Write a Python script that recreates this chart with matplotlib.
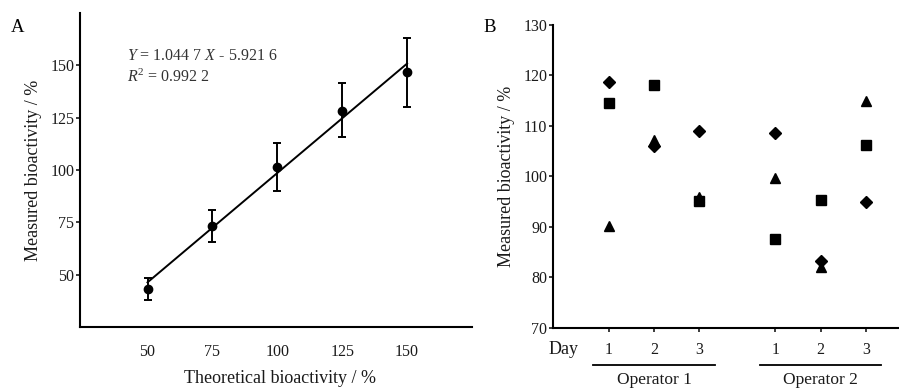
"""Bioactivity linearity (A) and intermediate precision (B)."""
import matplotlib

matplotlib.use("Agg")
import matplotlib.pyplot as plt
import matplotlib.transforms as mtransforms
import numpy as np

plt.rcParams["font.family"] = ["Liberation Serif", "DejaVu Serif"]
plt.rcParams["mathtext.fontset"] = "custom"
plt.rcParams["mathtext.it"] = "Liberation Serif:italic"
plt.rcParams["mathtext.rm"] = "Liberation Serif"

# Panel A: linearity
theoretical = [50, 75, 100, 125, 150]
measured = [43.3, 73.0, 101.4, 128.3, 146.7]
err_upper = [48.6, 80.7, 113.0, 141.7, 162.9]
err_lower = [38.1, 65.8, 90.0, 115.9, 130.0]
slope = 1.0447
intercept = -5.9216

# Panel B: three replicates per day, two operators
day_labels = ["1", "2", "3", "1", "2", "3"]
day_pos = [1, 2, 3, 4.67, 5.67, 6.67]
rep_diamond = [118.8, 106.1, 109.0, 108.6, 83.3, 94.9]
rep_square = [114.5, 118.1, 95.2, 87.6, 95.4, 106.2]
rep_triangle = [90.1, 107.2, 96.0, 99.6, 82.1, 115.0]
operators = ["Operator 1", "Operator 2"]

fig = plt.figure(figsize=(8.99, 3.9), dpi=100)
ax_a = fig.add_axes([0.089, 0.1615, 0.436, 0.8055])
ax_b = fig.add_axes([0.615, 0.159, 0.385, 0.777])

for ax in (ax_a, ax_b):
    for side in ("top", "right"):
        ax.spines[side].set_visible(False)
    for side in ("left", "bottom"):
        ax.spines[side].set_linewidth(1.5)
    ax.tick_params(direction="out", length=3, width=1.2, labelsize=11.5,
                   colors="#1a1a1a")
    ax.tick_params(axis="y", pad=1)

# ---- A ----
meas = np.array(measured)
yerr = [meas - np.array(err_lower), np.array(err_upper) - meas]
ax_a.errorbar(theoretical, measured, yerr=yerr, fmt="o", color="black",
              ms=6, capsize=3, elinewidth=1.4, capthick=1.4)
fit_x = np.array([theoretical[0], theoretical[-1]])
ax_a.plot(fit_x, slope * fit_x + intercept, color="black", lw=1.4)
ax_a.set_xlim(24, 175)
ax_a.set_ylim(25, 175)
ax_a.set_xticks(theoretical)
ax_a.set_yticks([50, 75, 100, 125, 150])
ax_a.tick_params(axis="x", length=0, pad=12)
ax_a.set_ylabel("Measured bioactivity / %", fontsize=13, labelpad=6,
                color="#1a1a1a")
fig.text(0.311, 0.03, "Theoretical bioactivity / %", fontsize=13,
         ha="center", va="center", color="#1a1a1a")
ax_a.text(0.12, 0.863, r"$\mathit{Y}$ = 1.044 7 $\mathit{X}$ - 5.921 6",
          transform=ax_a.transAxes, fontsize=11.5, color="#333333",
          va="center")
ax_a.text(0.12, 0.796, r"$\mathit{R}^2$ = 0.992 2",
          transform=ax_a.transAxes, fontsize=11.5, color="#333333",
          va="center")
fig.text(0.02, 0.93, "A", fontsize=13.5, ha="center", va="center")

# ---- B ----
ax_b.plot(day_pos, rep_diamond, "D", color="black", ms=6.3, ls="none")
ax_b.plot(day_pos, rep_square, "s", color="black", ms=6.5, ls="none")
ax_b.plot(day_pos, rep_triangle, "^", color="black", ms=7, ls="none")
ax_b.set_xlim(-0.23, 7.4)
ax_b.set_ylim(70, 130)
ax_b.set_yticks(range(70, 131, 10))
ax_b.set_xticks(day_pos)
ax_b.set_xticklabels(day_labels)
ax_b.tick_params(axis="x", pad=7)
ax_b.set_ylabel("Measured bioactivity / %", fontsize=13, labelpad=6,
                color="#1a1a1a")

trans = mtransforms.blended_transform_factory(ax_b.transData, ax_b.transAxes)
ax_b.text(0.0, -0.072, "Day", transform=trans, fontsize=13,
          ha="center", va="center", color="#1a1a1a")
for name, center in zip(operators, [day_pos[1], day_pos[4]]):
    ax_b.plot([center - 1.34, center + 1.34], [-0.122, -0.122],
              color="black", lw=1.3, transform=trans, clip_on=False)
    ax_b.text(center, -0.17, name, transform=trans, fontsize=12.5,
              ha="center", va="center", color="#1a1a1a")
fig.text(0.545, 0.93, "B", fontsize=13.5, ha="center", va="center")

plt.savefig("out.png", dpi=100)
plt.close()
